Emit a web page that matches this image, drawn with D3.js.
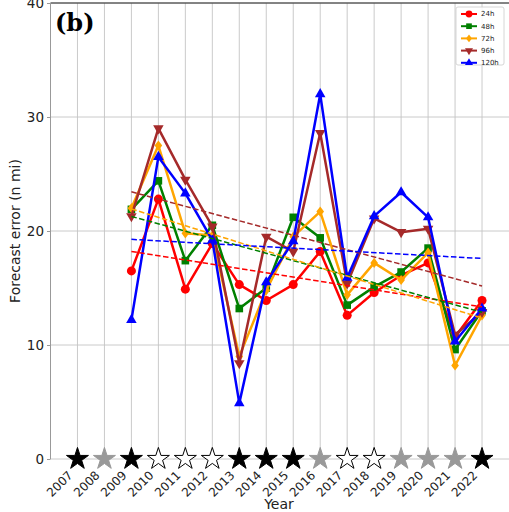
<!DOCTYPE html>
<html>
<head>
<meta charset="utf-8">
<script src="https://cdn.jsdelivr.net/npm/d3@7"></script>
<style>
  body { margin: 0; background: #fff; }
  text { font-family: "DejaVu Sans", sans-serif; }
</style>
</head>
<body>
<div id="chart"></div>
<script>
// years on the axis and star category per year (B = black, G = grey, W = open)
var years = [2007, 2008, 2009, 2010, 2011, 2012, 2013, 2014, 2015, 2016, 2017, 2018, 2019, 2020, 2021, 2022];
var starKind = ["B", "G", "B", "W", "W", "W", "B", "B", "B", "G", "W", "W", "G", "G", "G", "B"];

// forecast years with data
var dataYears = [2009, 2010, 2011, 2012, 2013, 2014, 2015, 2016, 2017, 2018, 2019, 2020, 2021, 2022];
var err24  = [16.5, 22.8, 14.9, 18.9, 15.3, 13.9, 15.3, 18.2, 12.6, 14.6, 16.1, 17.2, 10.7, 13.9];
var err48  = [21.9, 24.4, 17.4, 20.5, 13.2, 15.0, 21.2, 19.4, 13.5, 15.1, 16.4, 18.5,  9.6, 13.0];
var err72  = [22.0, 27.5, 19.8, 19.6,  9.0, 14.8, 19.5, 21.7, 14.4, 17.2, 15.7, 18.1,  8.2, 12.6];
var err96  = [21.3, 29.0, 24.5, 20.4,  8.4, 19.5, 18.2, 28.6, 15.4, 21.1, 19.9, 20.2, 10.9, 12.9];
var err120 = [12.2, 26.5, 23.3, 19.2,  4.9, 15.5, 19.1, 32.0, 15.9, 21.3, 23.4, 21.2, 10.3, 13.2];

var yTicks = [0, 10, 20, 30, 40];

var series = [
  {name: "24h",  vals: err24,  color: "red",     sym: "circle"},
  {name: "48h",  vals: err48,  color: "green",   sym: "square"},
  {name: "72h",  vals: err72,  color: "orange",  sym: "diamond"},
  {name: "96h",  vals: err96,  color: "brown",   sym: "tdown"},
  {name: "120h", vals: err120, color: "blue",    sym: "tup"}
];

var width = 509, height = 512;
var padL = 50.5, padR = 509, padT = 3, padB = 459;

var x = d3.scaleLinear().domain([2006, 2023]).range([padL, padR]);
var y = d3.scaleLinear().domain([0, 40]).range([padB, padT]);

var svg = d3.select("#chart").append("svg")
    .attr("width", width)
    .attr("height", height);

// grid
svg.append("g").selectAll("line.vg")
    .data(years).enter().append("line")
    .attr("x1", function(d){ return x(d); })
    .attr("x2", function(d){ return x(d); })
    .attr("y1", padT).attr("y2", padB)
    .attr("stroke", "#c4c4c4").attr("stroke-width", 0.9);

svg.append("g").selectAll("line.hg")
    .data(yTicks).enter().append("line")
    .attr("x1", padL).attr("x2", padR)
    .attr("y1", function(d){ return y(d); })
    .attr("y2", function(d){ return y(d); })
    .attr("stroke", "#c4c4c4").attr("stroke-width", 0.9);

// spines
svg.append("line").attr("x1", padL).attr("x2", padR).attr("y1", padT).attr("y2", padT)
    .attr("stroke", "#222").attr("stroke-width", 1);
svg.append("line").attr("x1", padL).attr("x2", padL).attr("y1", padT).attr("y2", padB)
    .attr("stroke", "#999").attr("stroke-width", 1);

// y axis
var yAxis = svg.append("g")
    .attr("transform", "translate(" + padL + ",0)")
    .call(d3.axisLeft(y).tickValues(yTicks).tickSize(3.5).tickPadding(3));
yAxis.select(".domain").remove();
yAxis.selectAll("line").attr("stroke", "#999");
yAxis.selectAll("text").style("font-size", "13.5px").attr("fill", "#222");

svg.append("text")
    .attr("transform", "translate(20," + ((padT + padB) / 2) + ") rotate(-90)")
    .attr("text-anchor", "middle")
    .style("font-size", "14px")
    .attr("fill", "#222")
    .text("Forecast error (n mi)");

// x tick labels
svg.append("g").selectAll("text.xt")
    .data(years).enter().append("text")
    .attr("transform", function(d){ return "translate(" + (x(d) - 4) + "," + 476 + ") rotate(-45)"; })
    .attr("text-anchor", "end")
    .style("font-size", "12px")
    .attr("fill", "#222")
    .text(function(d){ return d; });

svg.append("text")
    .attr("x", 279).attr("y", 509)
    .attr("text-anchor", "middle")
    .style("font-size", "14px")
    .attr("fill", "#222")
    .text("Year");

// series
var symMap = {
  circle: d3.symbol().type(d3.symbolCircle).size(64),
  square: d3.symbol().type(d3.symbolSquare).size(58),
  diamond: d3.symbol().type(d3.symbolDiamond).size(30),
  tup: d3.symbol().type(d3.symbolTriangle).size(48),
  tdown: d3.symbol().type(d3.symbolTriangle).size(48)
};

function markTf(s, px, py) {
  var t = "translate(" + px + "," + py + ")";
  if (s.sym == "tdown") t += " rotate(180)";
  if (s.sym == "diamond") t += " scale(1.3,1)";
  return t;
}

var line = d3.line()
    .x(function(d){ return x(d[0]); })
    .y(function(d){ return y(d[1]); });

function fit(xs, ys) {
  var mx = d3.mean(xs), my = d3.mean(ys), num = 0, den = 0;
  for (var i = 0; i < xs.length; i++) {
    num += (xs[i] - mx) * (ys[i] - my);
    den += (xs[i] - mx) * (xs[i] - mx);
  }
  var b = num / den;
  return function(t){ return my + b * (t - mx); };
}

series.forEach(function(s){
  var pts = dataYears.map(function(yr, i){ return [yr, s.vals[i]]; });
  var g = svg.append("g");
  g.append("path")
      .attr("d", line(pts))
      .attr("fill", "none")
      .attr("stroke", s.color)
      .attr("stroke-width", 2.5)
      .attr("stroke-linejoin", "round");
  g.selectAll("path.m")
      .data(pts).enter().append("path")
      .attr("d", symMap[s.sym])
      .attr("transform", function(d){ return markTf(s, x(d[0]), y(d[1])); })
      .attr("fill", s.color);
});

series.forEach(function(s){
  var f = fit(dataYears, s.vals);
  var ends = [dataYears[0], dataYears[dataYears.length - 1]];
  svg.append("path")
      .attr("d", line(ends.map(function(t){ return [t, f(t)]; })))
      .attr("fill", "none")
      .attr("stroke", s.color)
      .attr("stroke-width", 1.5)
      .attr("stroke-dasharray", "5.5,2.5");
});

// stars along the bottom
var starColor = {B: "#000", G: "#999", W: "#fff"};
var starEdge = {B: "#000", G: "#999", W: "#000"};
svg.append("g").selectAll("path.star")
    .data(years).enter().append("path")
    .attr("d", d3.symbol().type(d3.symbolStar).size(150))
    .attr("transform", function(d){ return "translate(" + x(d) + "," + y(0) + ")"; })
    .attr("fill", function(d, i){ return starColor[starKind[i]]; })
    .attr("stroke", function(d, i){ return starEdge[starKind[i]]; })
    .attr("stroke-width", 1);

// panel label
svg.append("text")
    .attr("x", 55).attr("y", 31)
    .style("font-family", "'DejaVu Serif', 'Liberation Serif', serif")
    .style("font-weight", "bold")
    .style("font-size", "24px")
    .text("(b)");

// legend
var lg = svg.append("g");
lg.append("rect")
    .attr("x", 456).attr("y", 7).attr("width", 48).attr("height", 58)
    .attr("rx", 2)
    .attr("fill", "#fff").attr("fill-opacity", 0.85)
    .attr("stroke", "#ccc").attr("stroke-width", 0.8);
var legSym = {
  circle: d3.symbol().type(d3.symbolCircle).size(36),
  square: d3.symbol().type(d3.symbolSquare).size(32),
  diamond: d3.symbol().type(d3.symbolDiamond).size(18),
  tup: d3.symbol().type(d3.symbolTriangle).size(28),
  tdown: d3.symbol().type(d3.symbolTriangle).size(28)
};
series.forEach(function(s, i){
  var ly = 14 + i * 12.2;
  lg.append("line")
      .attr("x1", 461).attr("x2", 477).attr("y1", ly).attr("y2", ly)
      .attr("stroke", s.color).attr("stroke-width", 2);
  lg.append("path")
      .attr("d", legSym[s.sym])
      .attr("transform", markTf(s, 469, ly))
      .attr("fill", s.color);
  lg.append("text")
      .attr("x", 481).attr("y", ly)
      .attr("dy", "0.35em")
      .style("font-size", "7px")
      .attr("fill", "#222")
      .text(s.name);
});
</script>
</body>
</html>
